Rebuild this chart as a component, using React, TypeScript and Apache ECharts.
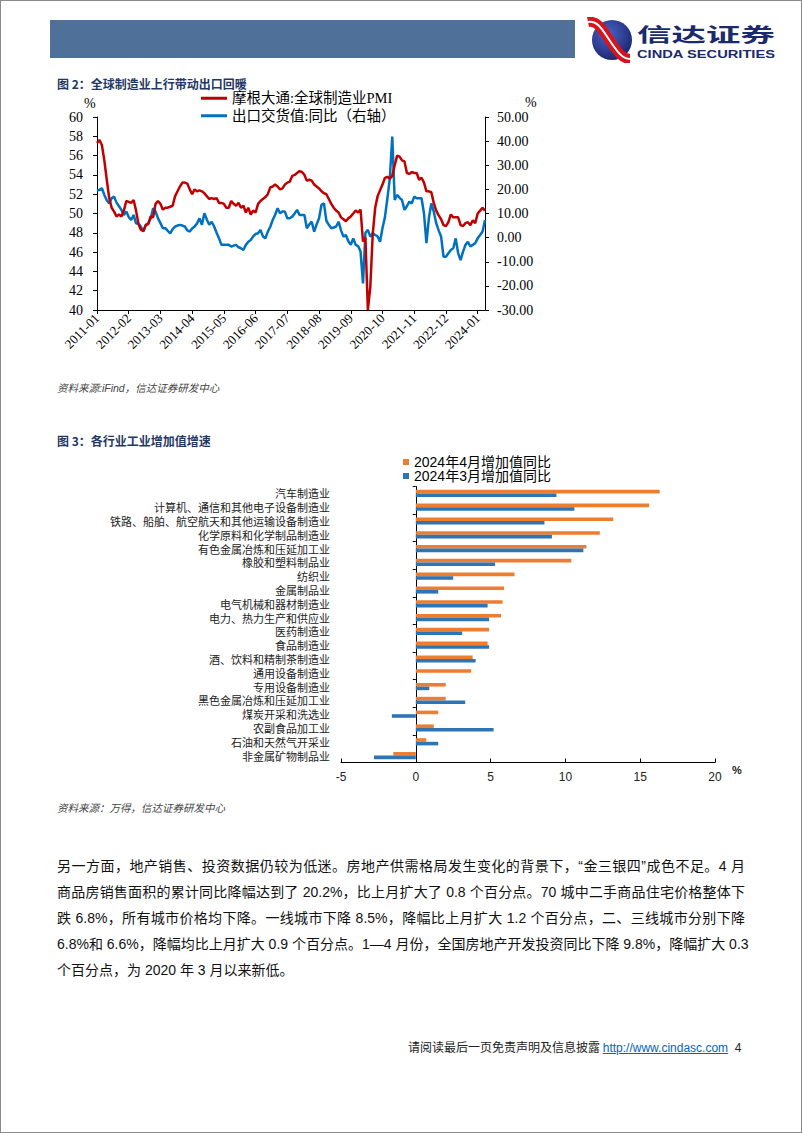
import React, { useEffect, useRef } from 'react';
import * as echarts from 'echarts';

// ---------- Chart 1 data ----------
const MONTHS: string[] = [];
for (let y = 2011; y <= 2024; y++) {
  for (let m = 1; m <= 12; m++) {
    if (y === 2024 && m > 4) break;
    MONTHS.push(`${y}-${m < 10 ? '0' + m : m}`);
  }
}

const PMI_NAME = '摩根大通:全球制造业PMI';
const EXPORT_NAME = '出口交货值:同比（右轴）';

const PMI: number[] = [
  57.3, 57.6, 57.1, 55.5, 53.5, 51.6, 50.6, 50.2, 49.7, 49.9, 49.7, 50.3,
  51.3, 51.2, 51.1, 51.4, 50.3, 48.9, 48.3, 48.2, 48.8, 48.9, 49.7, 49.6,
  51.0, 51.3, 51.0, 50.4, 50.6, 50.6, 50.7, 50.8, 51.8, 52.3, 52.8, 53.2,
  53.2, 53.1, 52.5, 52.0, 52.5, 52.3, 52.4, 52.3, 52.1, 51.8, 51.5, 51.6,
  51.5, 51.6, 51.1, 51.1, 51.0, 50.6, 50.6, 51.3, 51.0, 50.8, 51.1, 50.6,
  50.8, 50.1, 50.6, 49.9, 50.3, 50.1, 51.0, 51.3, 51.5, 51.7, 52.0, 52.7,
  52.8, 53.0, 52.8, 52.5, 52.6, 53.0, 53.2, 53.3, 53.9, 54.0, 54.2, 54.4,
  54.3, 54.0, 53.4, 53.5, 53.4, 53.0, 52.8, 52.6, 52.3, 52.1, 52.0, 51.5,
  51.0, 50.6, 50.3, 50.1, 49.6, 49.4, 49.2, 49.5, 49.7, 50.0, 50.3, 50.1,
  50.4, 47.1, 47.5, 40.0, 42.4, 47.9, 50.6, 51.8, 52.4, 53.0, 53.7, 53.8,
  53.6, 53.9, 55.0, 56.0, 55.9, 55.5, 55.4, 54.2, 54.1, 54.3, 54.2, 54.2,
  53.5, 53.7, 53.2, 52.3, 52.3, 52.2, 51.1, 50.3, 49.8, 49.4, 48.8, 48.7,
  49.1, 49.9, 49.6, 49.6, 49.6, 48.8, 48.7, 49.0, 49.1, 48.8, 49.3, 49.0,
  50.0, 50.3, 50.6, 50.3,
];

const EXPORT_YOY: number[] = [
  19.5, 19.8, 20.5, 17.7, 15.5, 14.2, 16.3, 17.0, 14.5, 13.0, 11.5, 9.4,
  10.8, 8.5, 7.3, 9.4, 5.9, 5.9, 4.5, 2.5, 5.3, 5.9, 8.0, 12.2,
  10.8, 8.0, 6.0, 3.9, 3.9, 2.8, 1.8, 3.5, 4.6, 5.0, 5.3, 5.0,
  4.6, 3.0, 2.5, 3.8, 4.6, 5.9, 8.0, 5.3, 10.1, 7.5, 5.3, 6.6,
  4.6, 2.0, -0.3, -3.0, -3.0, -3.0, -3.0, -3.7, -3.3, -3.0, -4.0, -4.4,
  -5.1, -3.0, -1.7, -1.0, 0.5, 1.5, 1.8, 3.2, 0.5, -0.3, 2.5, 4.5,
  7.3, 9.5, 12.2, 10.1, 10.8, 10.8, 8.0, 8.0, 8.7, 10.0, 11.5, 9.4,
  9.4, 9.4, 3.9, 5.5, 6.6, 2.5, 5.5, 8.0, 13.6, 14.2, 7.0, 5.3,
  3.9, 4.2, 4.6, 6.6, 3.0, 0.4, 1.1, -1.5, -3.0, -0.3, -3.0, -3.5,
  -5.8, -19.0, 2.0, 3.2, 0.4, 1.8, 1.1, 0.5, -1.7, 4.0, 8.5, 16.3,
  24.6, 41.9, 15.6, 17.7, 16.5, 15.6, 11.5, 13.0, 14.9, 14.2, 17.0, 16.3,
  16.3, 16.3, 10.0, -2.3, 8.0, 14.2, 10.8, 6.0, 3.0, 0.5, -7.9, -7.9,
  -6.5, -5.1, -4.4, -0.3, -6.5, -9.3, -5.8, -3.0, -1.7, -3.7, -3.0, -2.3,
  -0.3, 1.1, 2.5, 7.3,
];

// ---------- Chart 2 data ----------
const INDUSTRIES: string[] = [
  '汽车制造业',
  '计算机、通信和其他电子设备制造业',
  '铁路、船舶、航空航天和其他运输设备制造业',
  '化学原料和化学制品制造业',
  '有色金属冶炼和压延加工业',
  '橡胶和塑料制品业',
  '纺织业',
  '金属制品业',
  '电气机械和器材制造业',
  '电力、热力生产和供应业',
  '医药制造业',
  '食品制造业',
  '酒、饮料和精制茶制造业',
  '通用设备制造业',
  '专用设备制造业',
  '黑色金属冶炼和压延加工业',
  '煤炭开采和洗选业',
  '农副食品加工业',
  '石油和天然气开采业',
  '非金属矿物制品业',
];
const APR_NAME = '2024年4月增加值同比';
const MAR_NAME = '2024年3月增加值同比';
const APR_2024: number[] = [16.3, 15.6, 13.2, 12.3, 11.4, 10.4, 6.6, 5.9, 5.8, 5.7, 4.9, 4.8, 3.8, 3.7, 2.0, 2.0, 1.5, 1.2, 0.7, -1.5];
const MAR_2024: number[] = [9.4, 10.6, 8.6, 9.1, 11.2, 5.3, 2.5, 1.5, 4.8, 4.9, 3.1, 4.9, 4.0, 0, 0.9, 3.3, -1.6, 5.2, 1.5, -2.8];

const PARA_LINES: string[] = [
  '另一方面，地产销售、投资数据仍较为低迷。房地产供需格局发生变化的背景下，“金三银四”成色不足。4 月',
  '商品房销售面积的累计同比降幅达到了 20.2%，比上月扩大了 0.8 个百分点。70 城中二手商品住宅价格整体下',
  '跌 6.8%，所有城市价格均下降。一线城市下降 8.5%，降幅比上月扩大 1.2 个百分点，二、三线城市分别下降',
  '6.8%和 6.6%，降幅均比上月扩大 0.9 个百分点。1—4 月份，全国房地产开发投资同比下降 9.8%，降幅扩大 0.3',
  '个百分点，为 2020 年 3 月以来新低。',
];

const SERIF = "'Liberation Serif','Noto Sans CJK SC',serif";
const SANS = "'Liberation Sans','Noto Sans CJK SC',sans-serif";
const CJK = "'Noto Sans CJK SC',sans-serif";

export default function App() {
  const ref = useRef<HTMLDivElement>(null);

  useEffect(() => {
    document.body.style.margin = '0';
    if (!ref.current) return;
    const chart = echarts.init(ref.current, undefined, { renderer: 'svg' });
    chart.setOption({
      animation: false,
      grid: [
        { left: 97, top: 117, width: 388, height: 193 },
        { left: 341, top: 486.5, width: 374, height: 276 },
      ],
      legend: [
        {
          data: [PMI_NAME, EXPORT_NAME],
          orient: 'vertical',
          left: 201,
          top: 91,
          padding: 0,
          itemGap: 3,
          itemWidth: 26,
          itemHeight: 3,
          icon: 'rect',
          textStyle: { fontSize: 14.5, fontFamily: SERIF, color: '#000' },
        },
        {
          data: [APR_NAME, MAR_NAME],
          orient: 'vertical',
          left: 403,
          top: 455,
          padding: 0,
          itemGap: 0,
          itemWidth: 6,
          itemHeight: 6,
          icon: 'rect',
          textStyle: { fontSize: 14, fontFamily: SANS, color: '#000' },
        },
      ],
      xAxis: [
        {
          gridIndex: 0,
          type: 'category',
          data: MONTHS,
          boundaryGap: false,
          axisLine: { onZero: false, lineStyle: { color: '#000', width: 1 } },
          axisTick: { show: true, interval: 12, length: 4, lineStyle: { color: '#000' } },
          axisLabel: { interval: 12, rotate: 45, fontSize: 13, fontFamily: SERIF, color: '#000', margin: 6 },
          splitLine: { show: false },
        },
        {
          gridIndex: 1,
          type: 'value',
          min: -5,
          max: 20,
          interval: 5,
          axisLine: { show: true, onZero: false, lineStyle: { color: '#000', width: 1 } },
          axisTick: { show: true, inside: true, length: 4, lineStyle: { color: '#000' } },
          axisLabel: { fontSize: 12, fontFamily: SANS, color: '#222', margin: 8 },
          splitLine: { show: false },
        },
      ],
      yAxis: [
        {
          gridIndex: 0,
          type: 'value',
          position: 'left',
          min: 40,
          max: 60,
          interval: 2,
          axisLine: { show: true, lineStyle: { color: '#000', width: 1 } },
          axisTick: { show: true, length: 4, lineStyle: { color: '#000' } },
          axisLabel: { fontSize: 14, fontFamily: SERIF, color: '#000', margin: 14 },
          splitLine: { show: false },
        },
        {
          gridIndex: 0,
          type: 'value',
          position: 'right',
          min: -30,
          max: 50,
          interval: 10,
          axisLine: { show: true, onZero: false, lineStyle: { color: '#000', width: 1 } },
          axisTick: { show: true, length: 4, lineStyle: { color: '#000' } },
          axisLabel: {
            fontSize: 14,
            fontFamily: SERIF,
            color: '#000',
            margin: 12,
            formatter: (v: number) => v.toFixed(2),
          },
          splitLine: { show: false },
        },
        {
          gridIndex: 1,
          type: 'category',
          data: INDUSTRIES,
          inverse: true,
          axisLine: { show: false, onZero: false },
          axisTick: { show: false },
          axisLabel: { interval: 0, fontSize: 11, lineHeight: 12, fontFamily: CJK, color: '#222', margin: 11 },
        },
        {
          gridIndex: 1,
          type: 'category',
          data: INDUSTRIES,
          inverse: true,
          position: 'left',
          axisLine: { show: true, onZero: true, lineStyle: { color: '#000', width: 1 } },
          axisTick: { show: true, length: 3, lineStyle: { color: '#000' } },
          axisLabel: { show: false },
        },
      ],
      series: [
        {
          name: PMI_NAME,
          type: 'line',
          xAxisIndex: 0,
          yAxisIndex: 0,
          data: PMI,
          symbol: 'none',
          color: '#C00000',
          lineStyle: { width: 2.5, color: '#C00000' },
          z: 3,
        },
        {
          name: EXPORT_NAME,
          type: 'line',
          xAxisIndex: 0,
          yAxisIndex: 1,
          data: EXPORT_YOY,
          symbol: 'none',
          color: '#0070C0',
          lineStyle: { width: 2.5, color: '#0070C0' },
          z: 2,
        },
        {
          name: APR_NAME,
          type: 'bar',
          xAxisIndex: 1,
          yAxisIndex: 2,
          data: APR_2024,
          color: '#ED7D31',
          barWidth: 3.6,
          barGap: '0%',
        },
        {
          name: MAR_NAME,
          type: 'bar',
          xAxisIndex: 1,
          yAxisIndex: 2,
          data: MAR_2024,
          color: '#2E75B6',
          barWidth: 3.6,
          barGap: '0%',
        },
      ],
      graphic: [
        { type: 'text', left: 84, top: 96, style: { text: '%', fontSize: 14, fontFamily: SERIF, fill: '#000' } },
        { type: 'text', left: 525, top: 95, style: { text: '%', fontSize: 14, fontFamily: SERIF, fill: '#000' } },
        { type: 'text', left: 732, top: 764, style: { text: '%', fontSize: 11, fontWeight: 'bold', fontFamily: SANS, fill: '#222' } },
      ],
    });
    return () => chart.dispose();
  }, []);

  const abs = (left: number, top: number, extra: React.CSSProperties = {}): React.CSSProperties => ({
    position: 'absolute',
    left,
    top,
    whiteSpace: 'nowrap',
    ...extra,
  });

  return (
    <div style={{ position: 'relative', width: 802, height: 1133, background: '#fff', overflow: 'hidden' }}>
      <div ref={ref} style={{ position: 'absolute', left: 0, top: 0, width: 802, height: 1133 }} />
      <div
        style={{
          position: 'absolute',
          left: 0,
          top: 0,
          width: 802,
          height: 1133,
          border: '1px solid #8a8a8a',
          boxSizing: 'border-box',
          pointerEvents: 'none',
        }}
      />
      {/* header */}
      <div style={abs(50, 20, { width: 525, height: 38, background: '#4F7199' })} />
      <svg style={{ position: 'absolute', left: 585, top: 17 }} width={200} height={46}>
        <defs>
          <radialGradient id="lg" cx="0.4" cy="0.35" r="0.75">
            <stop offset="0" stopColor="#4a63c4" />
            <stop offset="1" stopColor="#18206a" />
          </radialGradient>
        </defs>
        <circle cx={27} cy={23} r={20} fill="url(#lg)" />
        <path d="M3 5 C 13 3, 18 14, 25 24 S 37 42, 45 42" stroke="#d7141e" strokeWidth={10} fill="none" />
        <path d="M3 5 C 13 3, 18 14, 25 24 S 37 42, 45 42" stroke="#ffffff" strokeWidth={2} fill="none" />
        <text x={52} y={25} fontSize={19} fontWeight="bold" fill="#1b2a6b" fontFamily={CJK} textLength={138} lengthAdjust="spacingAndGlyphs">
          信达证券
        </text>
        <text x={52} y={41} fontSize={10} fontWeight="bold" fill="#1b2a6b" fontFamily={SANS} textLength={138} lengthAdjust="spacingAndGlyphs">
          CINDA SECURITIES
        </text>
      </svg>

      {/* chart 1 title and source */}
      <div style={abs(57, 76, { fontSize: 12, lineHeight: '16px', fontWeight: 'bold', color: '#1F3864', fontFamily: CJK })}>
        图 2：全球制造业上行带动出口回暖
      </div>
      <div style={abs(57, 381, { fontSize: 10.5, lineHeight: '14px', fontStyle: 'italic', color: '#444', fontFamily: SANS })}>
        资料来源:iFind，信达证券研发中心
      </div>

      {/* chart 2 title and source */}
      <div style={abs(57, 433, { fontSize: 12, lineHeight: '16px', fontWeight: 'bold', color: '#1F3864', fontFamily: CJK })}>
        图 3：各行业工业增加值增速
      </div>
      <div style={abs(57, 801, { fontSize: 10.5, lineHeight: '14px', fontStyle: 'italic', color: '#444', fontFamily: SANS })}>
        资料来源：万得，信达证券研发中心
      </div>

      {/* paragraph */}
      {PARA_LINES.map((line, i) => (
        <div
          key={i}
          style={{
            position: 'absolute',
            left: 57,
            top: 853 + i * 26,
            width: i < 4 ? 688 : undefined,
            whiteSpace: 'nowrap',
            fontSize: 14,
            lineHeight: '26px',
            color: '#111',
            fontFamily: SANS,
            textAlign: i < 4 ? 'justify' : 'left',
            textAlignLast: i < 4 ? 'justify' : 'left',
          } as React.CSSProperties}
        >
          {line}
        </div>
      ))}

      {/* footer */}
      <div style={abs(408, 1039, { fontSize: 12, lineHeight: '16px', color: '#222', fontFamily: CJK })}>
        请阅读最后一页免责声明及信息披露{' '}
        <span style={{ color: '#0563C1', textDecoration: 'underline', fontFamily: SANS }}>http://www.cindasc.com</span>
        <span style={{ fontFamily: SANS }}>&nbsp;&nbsp;4</span>
      </div>
    </div>
  );
}
